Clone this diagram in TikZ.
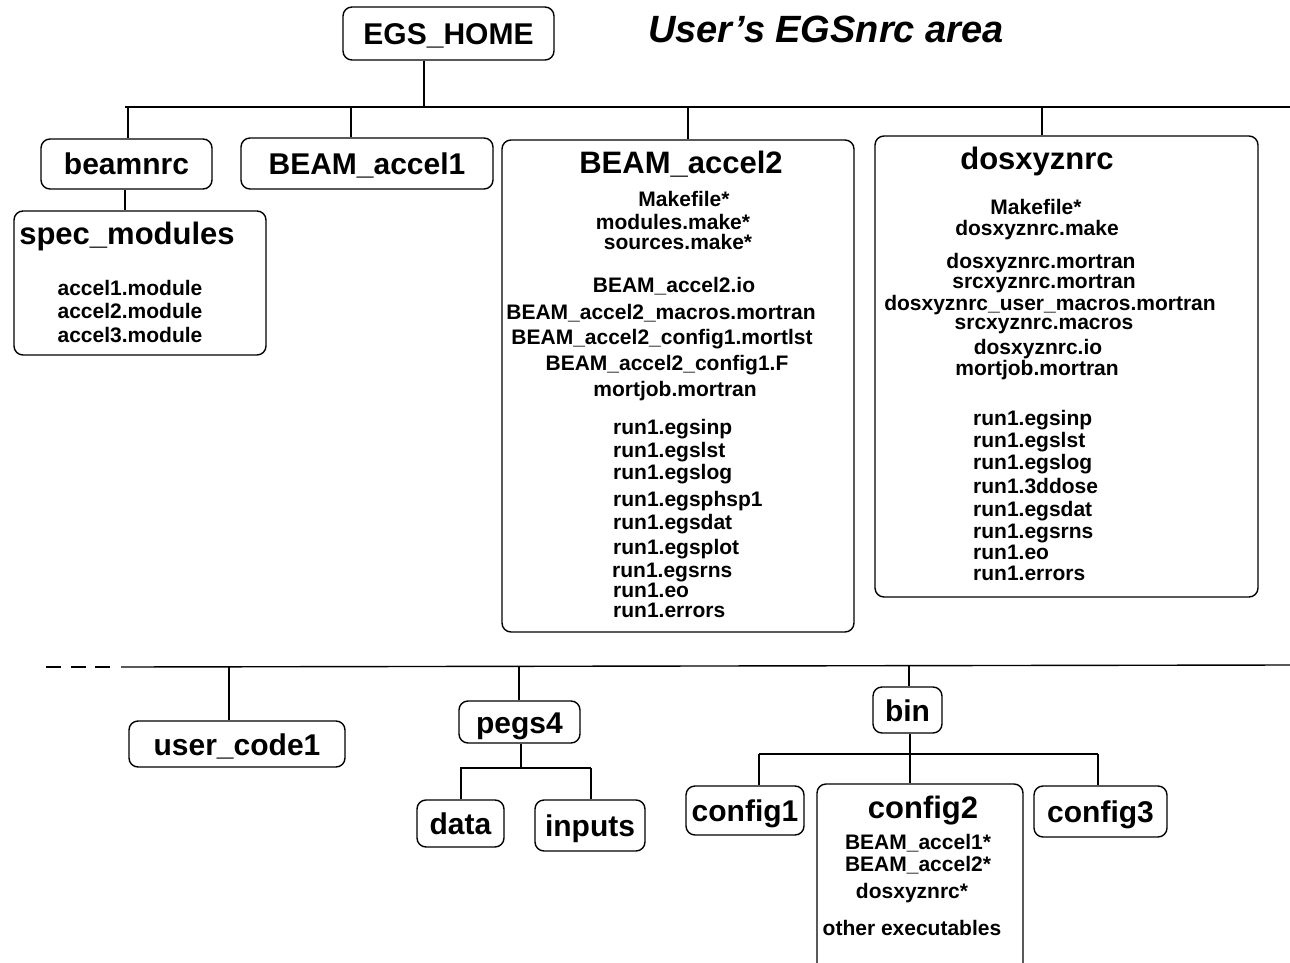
\documentclass[tikz,border=0pt]{standalone}
\usepackage{fontspec}
\setmainfont{Liberation Sans}
\begin{document}
\begin{tikzpicture}[x=1pt,y=-1pt,
  box/.style={draw, line width=1.4pt, rounded corners=9pt, inner sep=0pt,
    font=\fontsize{30}{34}\selectfont\bfseries, text height=22pt, text depth=0pt},
  link/.style={line width=1.4pt},
  item/.style={inner sep=0pt, font=\fontsize{21}{23}\selectfont\bfseries, text height=15pt, text depth=0pt},
  head/.style={inner sep=0pt, font=\fontsize{31}{34}\selectfont\bfseries, text height=22pt, text depth=0pt}]
\clip (0,0) rectangle (1290,963);
\fill[white] (0,0) rectangle (1290,963);

% title
\node[anchor=base west, inner sep=0pt, font=\fontsize{38}{40}\selectfont\bfseries\itshape] (title) at (648,43) {User’s EGSnrc area};

% top level boxes
\node[box, minimum width=211pt, minimum height=53pt] (egs) at (448.5,33.5) {EGS\_HOME};
\node[box, minimum width=171pt, minimum height=50pt] (beam) at (126.5,164) {beamnrc};
\node[box, minimum width=252pt, minimum height=51pt] (acc1) at (367,163.5) {BEAM\_accel1};
\node[box, minimum width=252pt, minimum height=144pt] (spec) at (140,283) {};
\node[box, minimum width=352pt, minimum height=492pt] (acc2) at (678,386) {};
\node[box, minimum width=383pt, minimum height=461pt] (dos) at (1066.5,366.5) {};

% spec_modules contents
\node[head] (spect) at (127,233) {spec\_modules};
\node[item] (sp1) at (130,288) {accel1.module};
\node[item] (sp2) at (130,311) {accel2.module};
\node[item] (sp3) at (130,335) {accel3.module};

% BEAM_accel2 contents
\node[head] (a2t) at (681,162) {BEAM\_accel2};
\node[item] (a2a) at (684,199) {Makefile*};
\node[item] (a2b) at (673,222) {modules.make*};
\node[item] (a2c) at (678,242) {sources.make*};
\node[item] (a2d) at (674,285) {BEAM\_accel2.io};
\node[item] (a2e) at (661,312) {BEAM\_accel2\_macros.mortran};
\node[item] (a2f) at (662,337) {BEAM\_accel2\_config1.mortlst};
\node[item] (a2g) at (667,363) {BEAM\_accel2\_config1.F};
\node[item] (a2h) at (675,389) {mortjob.mortran};
\node[item, anchor=west] (a2r1) at (613,427) {run1.egsinp};
\node[item, anchor=west] (a2r2) at (613,450) {run1.egslst};
\node[item, anchor=west] (a2r3) at (613,472) {run1.egslog};
\node[item, anchor=west] (a2r4) at (613,499) {run1.egsphsp1};
\node[item, anchor=west] (a2r5) at (613,522) {run1.egsdat};
\node[item, anchor=west] (a2r6) at (613,547) {run1.egsplot};
\node[item, anchor=west] (a2r7) at (612,570) {run1.egsrns};
\node[item, anchor=west] (a2r8) at (613,590) {run1.eo};
\node[item, anchor=west] (a2r9) at (613,610) {run1.errors};

% dosxyznrc contents
\node[head] (dost) at (1037,158) {dosxyznrc};
\node[item] (dsa) at (1036,207) {Makefile*};
\node[item] (dsb) at (1037,228) {dosxyznrc.make};
\node[item] (dsc) at (1041,261) {dosxyznrc.mortran};
\node[item] (dsd) at (1044,281) {srcxyznrc.mortran};
\node[item] (dse) at (1050,303) {dosxyznrc\_user\_macros.mortran};
\node[item] (dsf) at (1044,322) {srcxyznrc.macros};
\node[item] (dsg) at (1038,347) {dosxyznrc.io};
\node[item] (dsh) at (1037,368) {mortjob.mortran};
\node[item, anchor=west] (dsr1) at (973,418) {run1.egsinp};
\node[item, anchor=west] (dsr2) at (973,440) {run1.egslst};
\node[item, anchor=west] (dsr3) at (973,462) {run1.egslog};
\node[item, anchor=west] (dsr4) at (973,486) {run1.3ddose};
\node[item, anchor=west] (dsr5) at (973,509) {run1.egsdat};
\node[item, anchor=west] (dsr6) at (973,531) {run1.egsrns};
\node[item, anchor=west] (dsr7) at (973,552) {run1.eo};
\node[item, anchor=west] (dsr8) at (973,573) {run1.errors};

% top connectors
\coordinate (busL) at (125,107);
\coordinate (busR) at (1290,107);
\coordinate (x0) at (424,0);
\coordinate (x1) at (128,0);
\coordinate (x2) at (351,0);
\coordinate (x3) at (688,0);
\coordinate (x4) at (1042,0);
\coordinate (x5) at (125,0);
\draw[link] (busL) -- (busR);
\draw[link] (x0 |- egs.south) -- (x0 |- busL);
\draw[link] (x1 |- busL) -- (x1 |- beam.north);
\draw[link] (x2 |- busL) -- (x2 |- acc1.north);
\draw[link] (x3 |- busL) -- (x3 |- acc2.north);
\draw[link] (x4 |- busL) -- (x4 |- dos.north);
\draw[link] (x5 |- beam.south) -- (x5 |- spec.north);

% bottom level boxes
\node[box, minimum width=216pt, minimum height=46pt] (user) at (237,744) {user\_code1};
\node[box, minimum width=121pt, minimum height=42pt] (pegs) at (519.5,722) {pegs4};
\node[box, minimum width=87pt, minimum height=47pt] (data) at (460.5,823.5) {data};
\node[box, minimum width=110pt, minimum height=51pt] (inputs) at (590,825.5) {inputs};
\node[box, minimum width=69pt, minimum height=46pt] (bin) at (907.5,710) {bin};
\node[box, minimum width=118pt, minimum height=49pt] (cfg1) at (745,810.5) {config1};
\node[box, minimum width=206pt, minimum height=216pt] (cfg2) at (920,892) {};
\node[box, minimum width=133pt, minimum height=51pt] (cfg3) at (1100.5,811.5) {config3};

\node[head] (c2t) at (923,807) {config2};
\node[item] (c2a) at (918,842) {BEAM\_accel1*};
\node[item] (c2b) at (918,864) {BEAM\_accel2*};
\node[item] (c2c) at (912,891) {dosxyznrc*};
\node[item] (c2d) at (912,928) {other executables};

% bottom connectors
\coordinate (bd0) at (46,667);
\coordinate (bd1) at (110,667);
\coordinate (bbL) at (121,667);
\coordinate (bbR) at (1290,665);
\draw[link, dash pattern=on 15pt off 9.5pt] (bd0) -- (bd1);
\draw[link] (bbL) -- (bbR);
\coordinate (u0) at (229,667);
\coordinate (p0) at (519,667);
\coordinate (b0) at (909,666);
\draw[link] (u0) -- (u0 |- user.north);
\draw[link] (p0) -- (p0 |- pegs.north);
\draw[link] (b0) -- (b0 |- bin.north);

\coordinate (pb) at (521,768);
\coordinate (pbL) at (460,768);
\coordinate (pbR) at (591,768);
\coordinate (dx) at (461,0);
\coordinate (ix) at (591,0);
\draw[link] (pb |- pegs.south) -- (pb);
\draw[link] (pbL) -- (pbR);
\draw[link] (dx |- pbL) -- (dx |- data.north);
\draw[link] (ix |- pbR) -- (ix |- inputs.north);

\coordinate (bb) at (910,754);
\coordinate (bbl) at (759,754);
\coordinate (bbr) at (1098,754);
\draw[link] (bb |- bin.south) -- (bb);
\draw[link] (bbl) -- (bbr);
\draw[link] (bbl) -- (bbl |- cfg1.north);
\draw[link] (bb) -- (bb |- cfg2.north);
\draw[link] (bbr) -- (bbr |- cfg3.north);
\end{tikzpicture}
\end{document}
